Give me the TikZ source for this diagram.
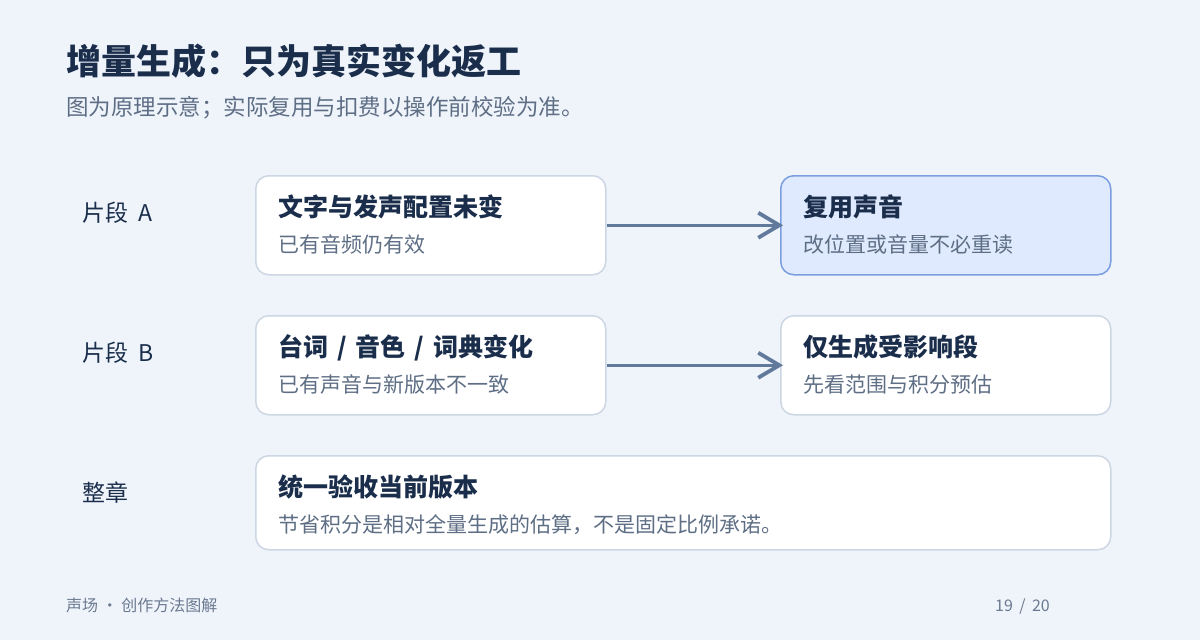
\documentclass[tikz,border=0pt]{standalone}
\usepackage{fontspec}
\setmainfont{Noto Sans CJK SC}
\usetikzlibrary{arrows.meta}
\definecolor{bg}{HTML}{EFF4FB}
\definecolor{titlec}{HTML}{1A2E4C}
\definecolor{subc}{HTML}{5E6E85}
\definecolor{boxline}{HTML}{CDD7E3}
\definecolor{hifill}{HTML}{DFEAFE}
\definecolor{hiline}{HTML}{7A9EDF}
\definecolor{arrowc}{HTML}{61799B}
\definecolor{footc}{HTML}{6B7A90}
\newcommand{\sepsl}{\hspace{0.36em}/\hspace{0.36em}}
\tikzset{
  card/.style={draw=boxline, line width=1.5pt, fill=white, rounded corners=13pt, anchor=north west, inner sep=0pt},
  hicard/.style={card, draw=hiline, fill=hifill},
  cardtitle/.style={anchor=base west, inner sep=0pt, text=titlec, font=\fontsize{25}{25}\selectfont\bfseries},
  cardsub/.style={anchor=base west, inner sep=0pt, text=subc, font=\fontsize{21}{21}\selectfont},
  rowlabel/.style={anchor=base west, inner sep=0pt, text=titlec, font=\fontsize{23}{23}\selectfont},
  flow/.style={draw=arrowc, line width=3pt, -{Straight Barb[length=21pt,width=25pt,line width=3.8pt]}},
  foot/.style={anchor=base west, inner sep=0pt, text=footc, font=\fontsize{16}{16}\selectfont},
}
\begin{document}
\begin{tikzpicture}[x=1pt,y=-1pt]
\useasboundingbox[fill=bg] (0,0) rectangle (1200,640);
% title
\node[anchor=base west, inner sep=0pt, text=titlec, font=\fontsize{35}{35}\selectfont\bfseries] (title) at (66,74) {增量生成：只为真实变化返工};
\node[anchor=base west, inner sep=0pt, text=subc, font=\fontsize{22.5}{22.5}\selectfont] (subtitle) at (66,115) {图为原理示意；实际复用与扣费以操作前校验为准。};
% row labels
\node[rowlabel] (la) at (82,221) {片段\hspace{0.45em}A};
\node[rowlabel] (lb) at (82,361) {片段\hspace{0.45em}B};
\node[rowlabel] (lc) at (82,501) {整章};
% cards
\node[card, minimum width=350pt, minimum height=99pt] (a1) at (255,175) {};
\node[hicard, minimum width=330pt, minimum height=99pt] (a2) at (780,175) {};
\node[card, minimum width=350pt, minimum height=99pt] (b1) at (255,315) {};
\node[card, minimum width=330pt, minimum height=99pt] (b2) at (780,315) {};
\node[card, minimum width=855pt, minimum height=94pt] (c1) at (255,455) {};
% card texts
\node[cardtitle] (a1t) at (278,216) {文字与发声配置未变};
\node[cardsub] (a1s) at (278,252) {已有音频仍有效};
\node[cardtitle] (a2t) at (803,216) {复用声音};
\node[cardsub] (a2s) at (803,252) {改位置或音量不必重读};
\node[cardtitle] (b1t) at (278,356) {台词\sepsl 音色\sepsl 词典变化};
\node[cardsub] (b1s) at (278,392) {已有声音与新版本不一致};
\node[cardtitle] (b2t) at (803,356) {仅生成受影响段};
\node[cardsub] (b2s) at (803,392) {先看范围与积分预估};
\node[cardtitle] (c1t) at (278,496) {统一验收当前版本};
\node[cardsub] (c1s) at (278,532) {节省积分是相对全量生成的估算，不是固定比例承诺。};
% arrows
\draw[flow] (a1.east) -- ([xshift=3pt]a2.west);
\draw[flow] (b1.east) -- ([xshift=3pt]b2.west);
% footer
\node[foot] (f1) at (66,611) {声场 · 创作方法图解};
\node[foot] (f2) at (995,611) {19\hspace{0.4em}/\hspace{0.4em}20};
\end{tikzpicture}
\end{document}
